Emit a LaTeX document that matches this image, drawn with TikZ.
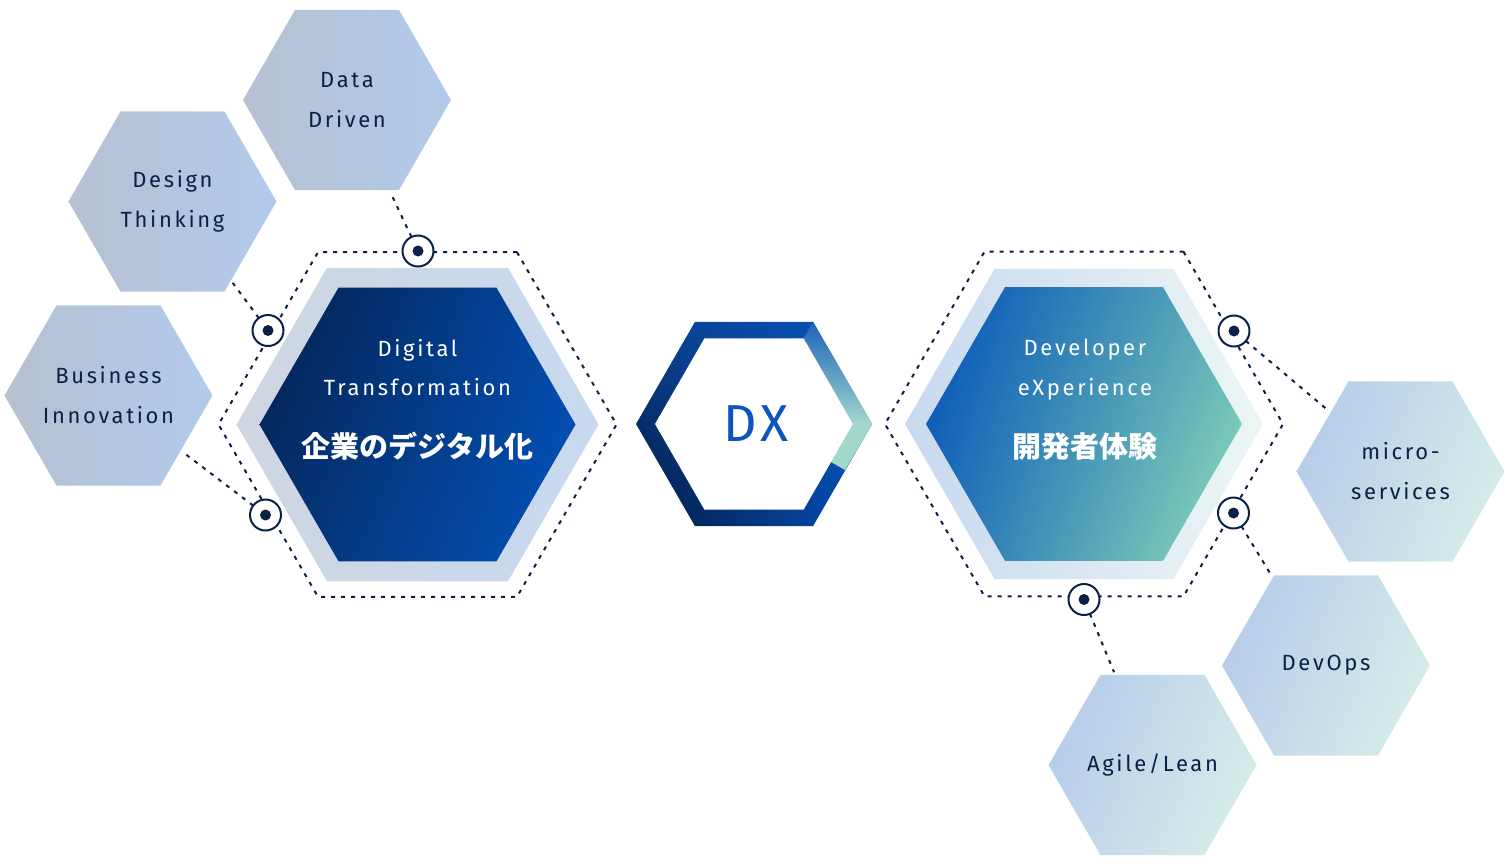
\documentclass[tikz,border=0pt]{standalone}
\usepackage{fontspec}
\usepackage{xcolor}
\usepackage{tikz}
\usetikzlibrary{shapes.geometric,shadings}
\setmainfont{Fira Sans}
\newfontfamily\techfont{Fira Sans}[LetterSpace=12]
\newfontfamily\dxfont{Fira Sans}[LetterSpace=8]
\newfontfamily\cjkfont{Noto Sans CJK JP}
\definecolor{hubnavy}{HTML}{0B2046}
\definecolor{dxblue}{HTML}{0A55C0}
\definecolor{greyleft}{HTML}{B6C1D1}
\definecolor{greyright}{HTML}{B2CAEA}
\definecolor{skyUL}{HTML}{B2C7EA}
\definecolor{skyUR}{HTML}{CFE6EA}
\definecolor{skyLL}{HTML}{BDD2E9}
\definecolor{skyLR}{HTML}{DBF2E8}
\definecolor{bandgrey}{HTML}{CED6E1}
\definecolor{bandblue}{HTML}{C8D9EF}
\definecolor{bandmint}{HTML}{ECF6F4}
\definecolor{navyUL}{HTML}{03204C}
\definecolor{navyLL}{HTML}{05306E}
\definecolor{navyUR}{HTML}{0349A8}
\definecolor{navyLR}{HTML}{0354BC}
\definecolor{tealUL}{HTML}{0050B8}
\definecolor{tealUR}{HTML}{63B3B8}
\definecolor{tealLL}{HTML}{1D6BB8}
\definecolor{tealLR}{HTML}{90E0B8}
\definecolor{ringUL}{HTML}{0B3F8E}
\definecolor{ringUR}{HTML}{0655BD}
\definecolor{ringLL}{HTML}{031A42}
\definecolor{ringLR}{HTML}{0450B8}
\definecolor{ringtop}{HTML}{1C63B8}
\definecolor{ringmint}{HTML}{A2D8CC}

\begin{document}
\begin{tikzpicture}[x=1pt,y=-1pt,
        hexa/.style={regular polygon,regular polygon sides=6,
                     inner sep=0pt,outer sep=0pt},
        topic/.style={hexa,minimum size=208pt,inner sep=-20pt,align=center,text=hubnavy,
                      font=\techfont\fontsize{22}{40}\selectfont},
        bizhex/.style={topic,left color=greyleft,right color=greyright},
        devhex/.style={topic,upper left=skyUL,upper right=skyUR,
                       lower left=skyLL,lower right=skyLR},
        dotline/.style={draw=hubnavy,line width=2pt,dash pattern=on 4pt off 6pt},
        hub/.style={circle,draw=hubnavy,line width=2pt,fill=white,
                    minimum size=31pt,inner sep=0pt,outer sep=0pt,
                    path picture={\fill[hubnavy] (path picture bounding box.center) circle (5.5pt);}},
        entxt/.style={anchor=base,text=white,font=\techfont\fontsize{22}{26}\selectfont},
        jatxt/.style={anchor=base,text=white,font=\cjkfont\bfseries\fontsize{29}{34}\selectfont}]
      \useasboundingbox (0,0) rectangle (1509,863);
      %% ── Topic hexagons, business side (left) ─────────────
      \node[bizhex] (data)   at (347,100)   {Data\\Driven};
      \node[bizhex] (design) at (172.5,201.5) {Design\\Thinking};
      \node[bizhex] (biz)    at (108.5,395.5) {Business\\Innovation};
      %% ── Topic hexagons, developer side (right) ───────────
      \node[devhex] (micro)  at (1400.5,471.5) {micro-\\services};
      \node[devhex] (devops) at (1326,665.5)  {DevOps};
      \node[devhex] (agile)  at (1152.5,765)  {Agile/Lean};
      %% ── Digital Transformation (left big hexagon) ────────
      \node[hexa,dotline,minimum size=398pt] (dtDots) at (417.5,424.5) {};
      \node[hexa,minimum size=362pt,left color=bandgrey,right color=bandblue] (dtBand) at (417.5,424.5) {};
      \node[hexa,minimum size=316pt,upper left=navyUL,upper right=navyUR,
            lower left=navyLL,lower right=navyLR] (dtCore) at (417.5,424.5) {};
      \node[entxt] (dtLine1) at (417.5,356) {Digital};
      \node[entxt] (dtLine2) at (417.5,395) {Transformation};
      \node[jatxt] (dtJa)    at (417.5,457) {企業のデジタル化};
      %% ── Developer eXperience (right big hexagon) ─────────
      \node[hexa,dotline,minimum size=398pt] (devDots) at (1084,424) {};
      \node[hexa,minimum size=358pt,left color=bandblue,right color=bandmint] (devBand) at (1084,424) {};
      \node[hexa,minimum size=316pt,upper left=tealUL,upper right=tealUR,
            lower left=tealLL,lower right=tealLR] (devCore) at (1084,424) {};
      \node[entxt] (devLine1) at (1085,355) {Developer};
      \node[entxt] (devLine2) at (1085,395) {eXperience};
      \node[jatxt] (devJa)    at (1085,457) {開発者体験};
      %% ── DX ring (centre) ─────────────────────────────────
      \node[hexa,minimum size=236pt,upper left=ringUL,upper right=ringUR,
            lower left=ringLL,lower right=ringLR] (dxRing) at (754,424) {};
      \shade[top color=ringtop,bottom color=ringmint]
            (813,321.8) -- (872,424) -- (853,424) -- (803.5,338.3) -- cycle;
      \fill[ringmint] (872,424) -- (853,424) -- (831,462) -- (845,470) -- cycle;
      \node[hexa,minimum size=198pt,fill=white] (dxCore) at (754,424) {};
      \node[text=dxblue,font=\dxfont\fontsize{52}{60}\selectfont] (dxLabel) at (756,424) {DX};
      %% ── Hubs on the dotted rings ─────────────────────────
      \node[hub] (hubData)   at (418,251)    {};
      \node[hub] (hubDesign) at (268,330.5)  {};
      \node[hub] (hubBiz)    at (265.5,515)  {};
      \node[hub] (hubMicro)  at (1234,331)   {};
      \node[hub] (hubDevops) at (1233.5,513) {};
      \node[hub] (hubAgile)  at (1084,599.5) {};
      %% ── Dotted links: hub → topic ────────────────────────
      \draw[dotline,shorten >=3pt] (hubData)   -- (data);
      \draw[dotline,shorten >=3pt] (hubDesign) -- (design);
      \draw[dotline,shorten >=3pt] (hubBiz)    -- (biz);
      \draw[dotline,shorten >=3pt] (hubMicro)  -- (micro);
      \draw[dotline,shorten >=3pt] (hubDevops) -- (devops);
      \draw[dotline,shorten >=3pt] (hubAgile)  -- (agile);
    \end{tikzpicture}
\end{document}
